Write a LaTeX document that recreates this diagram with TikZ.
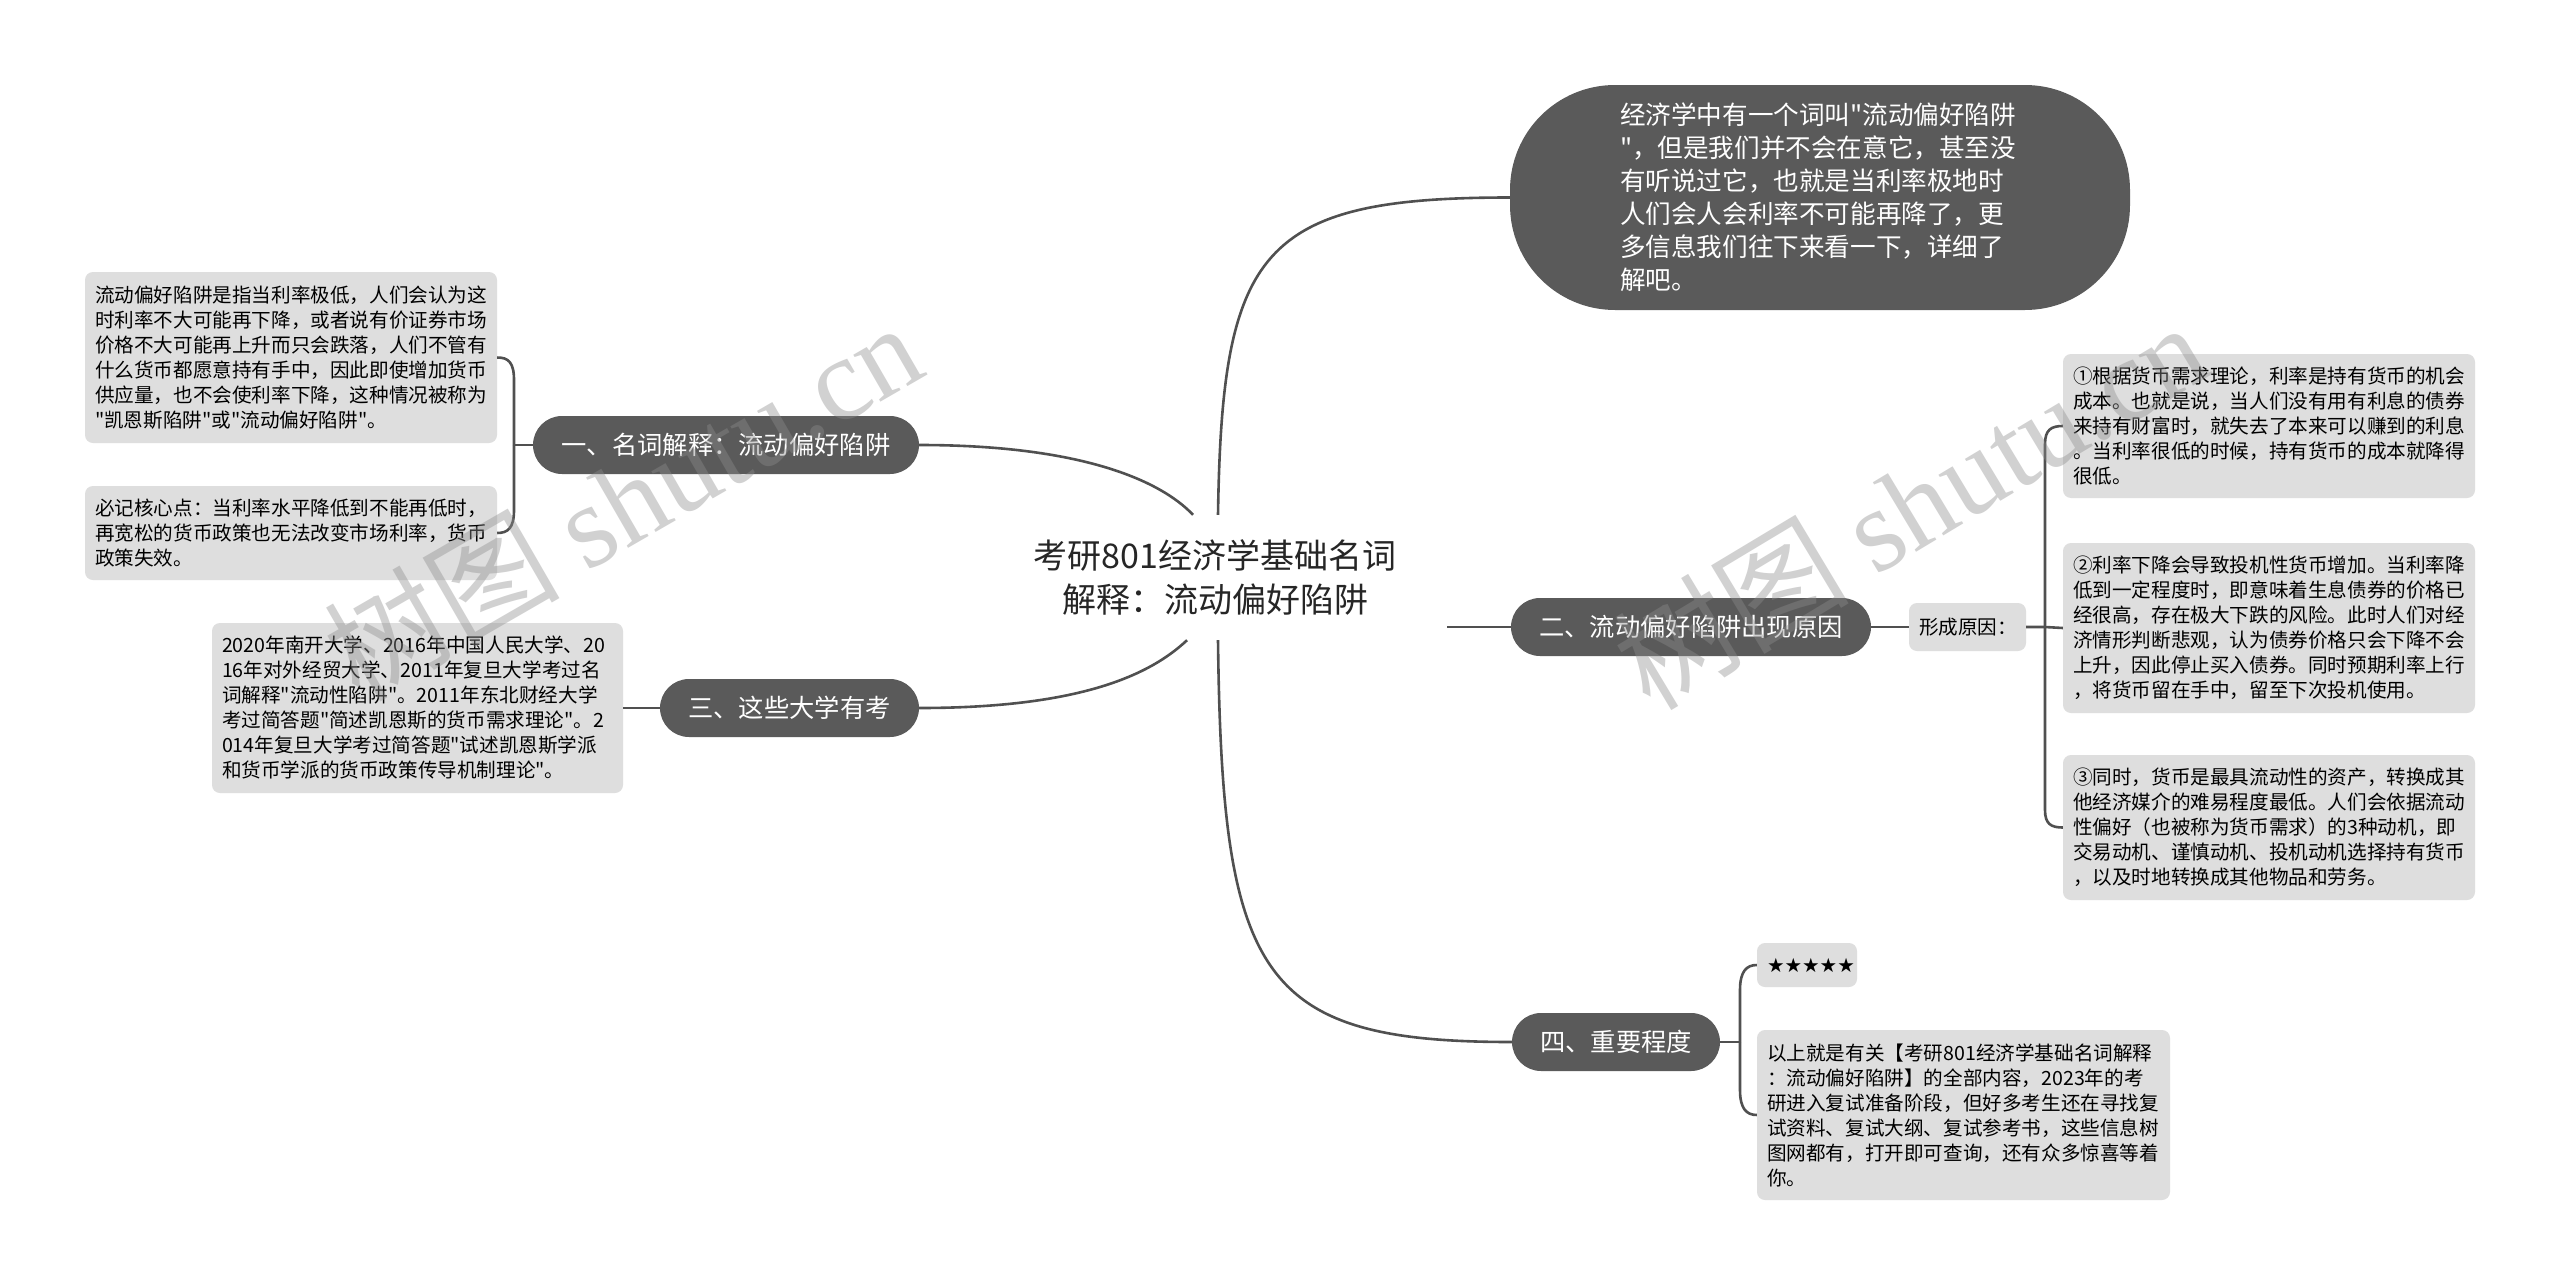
\documentclass[tikz,border=0pt]{standalone}
\usepackage{fontspec}
\setmainfont{Noto Sans CJK SC}[Ligatures=TeXOff]
\newfontfamily\wmserif{Liberation Serif}
\newfontfamily\starfont{DejaVu Sans}
\definecolor{dk}{HTML}{5A5A5A}
\definecolor{lt}{HTML}{DEDEDE}
\definecolor{ln}{HTML}{505050}
\definecolor{titlec}{HTML}{262626}
\tikzset{
  leaf/.style={fill=lt, rounded corners=8, inner xsep=10, inner ysep=0, align=left,
    font=\fontsize{19.6}{25}\selectfont, text=black},
  branch/.style={fill=dk, rounded corners=29, text=white, inner sep=0,
    font=\fontsize{25.3}{30}\selectfont, minimum height=58},
  conn/.style={draw=ln, line width=2.6},
  wm/.style={font=\fontsize{118}{118}\selectfont, text=black!45, opacity=0.4, inner sep=0},
}
\begin{document}
\begin{tikzpicture}[x=1pt,y=-1pt]
\useasboundingbox (0,0) rectangle (2560,1285);
\fill[white] (0,0) rectangle (2560,1285);

% central topic
\node[font=\fontsize{34}{44}\selectfont, align=center, minimum width=464, minimum height=125,
  inner sep=0, text=titlec] (title) at (1215,577.5) {考研801经济学基础名词\\解释：流动偏好陷阱};

% top bubble
\node[fill=dk, rounded corners=105, text=white, inner sep=0, minimum width=620, minimum height=225,
  align=left, text width=400, font=\fontsize{25.6}{33}\selectfont] (bubble) at (1820,197.5)
  {经济学中有一个词叫"流动偏好陷阱\\"，但是我们并不会在意它，甚至没\\有听说过它，也就是当利率极地时\\人们会人会利率不可能再降了，更\\多信息我们往下来看一下，详细了\\解吧。};

% branches
\node[branch, minimum width=386] (b1) at (726,445) {一、名词解释：流动偏好陷阱};
\node[branch, minimum width=259] (b3) at (789.5,708) {三、这些大学有考};
\node[branch, minimum width=360] (b2) at (1691,627) {二、流动偏好陷阱出现原因};
\node[branch, minimum width=208] (b4) at (1616,1042) {四、重要程度};

% left leaves
\node[leaf, text width=392, minimum height=171] (l1) at (291,357.5)
  {流动偏好陷阱是指当利率极低，人们会认为这\\时利率不大可能再下降，或者说有价证券市场\\价格不大可能再上升而只会跌落，人们不管有\\什么货币都愿意持有手中，因此即使增加货币\\供应量，也不会使利率下降，这种情况被称为\\"凯恩斯陷阱"或"流动偏好陷阱"。};
\node[leaf, text width=392, minimum height=94] (l2) at (291,533)
  {必记核心点：当利率水平降低到不能再低时，\\再宽松的货币政策也无法改变市场利率，货币\\政策失效。};
\node[leaf, text width=391, minimum height=170] (l3) at (417.5,708)
  {2020年南开大学、2016年中国人民大学、20\\16年对外经贸大学、2011年复旦大学考过名\\词解释"流动性陷阱"。2011年东北财经大学\\考过简答题"简述凯恩斯的货币需求理论"。2\\014年复旦大学考过简答题"试述凯恩斯学派\\和货币学派的货币政策传导机制理论"。};

% right leaves
\node[leaf, align=center, text width=97, minimum height=48] (xc) at (1967.5,627) {形成原因：};
\node[leaf, text width=392, minimum height=144] (r1) at (2269,426)
  {①根据货币需求理论，利率是持有货币的机会\\成本。也就是说，当人们没有用有利息的债券\\来持有财富时，就失去了本来可以赚到的利息\\。当利率很低的时候，持有货币的成本就降得\\很低。};
\node[leaf, text width=392, minimum height=170] (r2) at (2269,628)
  {②利率下降会导致投机性货币增加。当利率降\\低到一定程度时，即意味着生息债券的价格已\\经很高，存在极大下跌的风险。此时人们对经\\济情形判断悲观，认为债券价格只会下降不会\\上升，因此停止买入债券。同时预期利率上行\\，将货币留在手中，留至下次投机使用。};
\node[leaf, text width=392, minimum height=145] (r3) at (2269,827.5)
  {③同时，货币是最具流动性的资产，转换成其\\他经济媒介的难易程度最低。人们会依据流动\\性偏好（也被称为货币需求）的3种动机，即\\交易动机、谨慎动机、投机动机选择持有货币\\，以及时地转换成其他物品和劳务。};
\node[leaf, align=center, text width=80, minimum height=44] (star) at (1807,965) {\starfont ★★★★★};
\node[leaf, text width=393, minimum height=170] (sum) at (1963.5,1115)
  {以上就是有关【考研801经济学基础名词解释\\：流动偏好陷阱】的全部内容，2023年的考\\研进入复试准备阶段，但好多考生还在寻找复\\试资料、复试大纲、复试参考书，这些信息树\\图网都有，打开即可查询，还有众多惊喜等着\\你。};

% connectors from centre
\draw[conn] ([xshift=3pt]title.north) .. controls (1222,250) and (1260,197.5) .. (bubble.west);
\draw[conn] (b1.east) .. controls (1080,445) and (1160,480) .. ([xshift=-22pt]title.north);
\draw[conn] (b3.east) .. controls (1080,708) and (1150,675) .. ([xshift=-28pt]title.south);
\draw[conn] (b2.west -| title.east) -- (b2.west);
\draw[conn] ([xshift=3pt]title.south) .. controls (1222,978) and (1260,1042) .. (b4.west);

% left bracket
\coordinate (j1) at (514,445);
\draw[conn] (b1.west) -- (j1);
\draw[conn] (j1) -- (514,380) .. controls (514,362) and (508,357.5) .. (l1.east);
\draw[conn] (j1) -- (514,510) .. controls (514,528) and (508,533) .. (l2.east);
\draw[conn] (l3.east) -- (b3.west);

% right bracket
\coordinate (j2) at (2045,627);
\draw[conn] (b2.east) -- (xc.west);
\draw[conn] (xc.east) -- (j2) -- (r2.west);
\draw[conn] (j2) -- (2045,444) .. controls (2045,430) and (2051,426) .. (r1.west);
\draw[conn] (j2) -- (2045,810) .. controls (2045,824) and (2051,827.5) .. (r3.west);

% importance bracket
\coordinate (j3) at (1740,1042);
\draw[conn] (b4.east) -- (j3);
\draw[conn] (j3) -- (1740,990) .. controls (1740,972) and (1746,965) .. (star.west);
\draw[conn] (j3) -- (1740,1090) .. controls (1740,1108) and (1746,1115) .. (sum.west);

% watermarks
\node[wm, rotate=30] (wm1) at (622,500) {树图 {\wmserif shutu.cn}};
\node[wm, rotate=31] (wm2) at (1910,504) {树图 {\wmserif shutu.cn}};
\end{tikzpicture}
\end{document}
